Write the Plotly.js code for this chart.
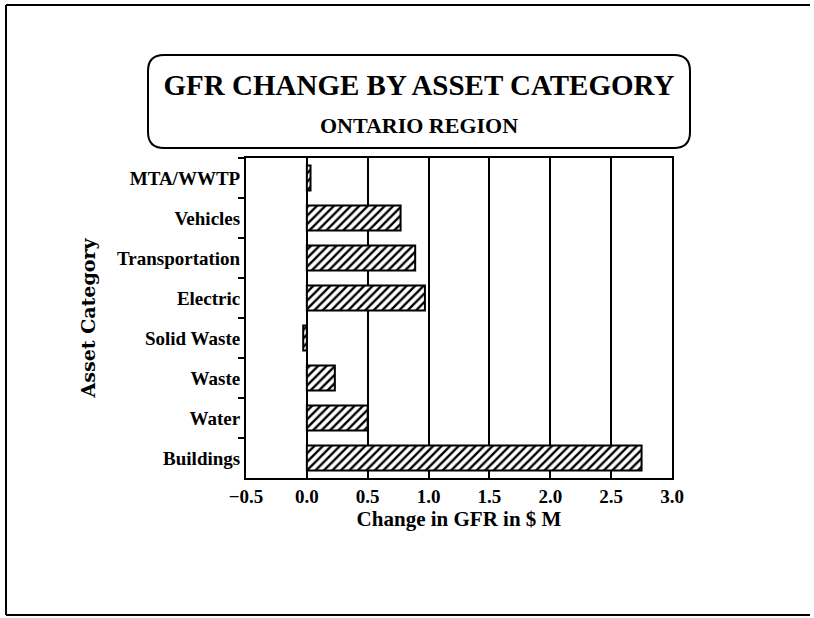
<!DOCTYPE html>
<html>
<head>
<meta charset="utf-8">
<script src="https://cdn.plot.ly/plotly-3.0.1.min.js"></script>
<style>
  html, body { margin: 0; padding: 0; background: #fff; }
  #chart { width: 814px; height: 618px; }
</style>
</head>
<body>
<div id="chart"></div>
<script>
// Data (top to bottom as shown)
const categories = ["MTA/WWTP", "Vehicles", "Transportation", "Electric", "Solid Waste", "Waste", "Water", "Buildings"];
const gfrChange = [0.03, 0.77, 0.89, 0.97, -0.03, 0.23, 0.50, 2.75];
const xTickValues = [-0.5, 0.0, 0.5, 1.0, 1.5, 2.0, 2.5, 3.0];

const titleMain = "GFR CHANGE BY ASSET CATEGORY";
const titleSub = "ONTARIO REGION";
const xTitle = "Change in GFR in $ M";
const yTitle = "Asset Category";

// Layout geometry (pixels)
const PW = 814, PH = 618;
const L = 246, R = 142, T = 158, B = 140;
const W = PW - L - R, H = PH - T - B;
const px = v => (v - L) / W;
const py = v => (T + H - v) / H;

function roundRect(x0, y0, x1, y1, r) {
  const rx = r / W, ry = r / H;
  const a = px(x0), b = px(x1), top = py(y0), bot = py(y1);
  return `M ${a + rx},${top} L ${b - rx},${top} Q ${b},${top} ${b},${top - ry} ` +
         `L ${b},${bot + ry} Q ${b},${bot} ${b - rx},${bot} L ${a + rx},${bot} ` +
         `Q ${a},${bot} ${a},${bot + ry} L ${a},${top - ry} Q ${a},${top} ${a + rx},${top} Z`;
}

const serif = "Liberation Serif, Times New Roman, serif";

const trace = {
  type: "bar",
  orientation: "h",
  y: categories,
  x: gfrChange,
  width: 0.62,
  marker: {
    color: "white",
    line: { color: "black", width: 2 },
    pattern: { shape: "/", fgcolor: "black", bgcolor: "white", size: 6, solidity: 0.4 }
  },
  hoverinfo: "x+y"
};

const layout = {
  width: PW, height: PH,
  margin: { l: L, r: R, t: T, b: B, pad: 0 },
  paper_bgcolor: "white",
  plot_bgcolor: "white",
  showlegend: false,
  font: { family: serif, color: "black" },
  xaxis: {
    range: [-0.5, 3.0],
    tickvals: xTickValues,
    ticktext: xTickValues.map(v => (v < 0 ? "\u2212" : "") + Math.abs(v).toFixed(1)),
    showgrid: true, gridcolor: "black", gridwidth: 2,
    zeroline: true, zerolinecolor: "black", zerolinewidth: 2,
    showline: true, linecolor: "black", linewidth: 2, mirror: true,
    ticks: "", tickfont: { family: serif, size: 19, weight: "bold", color: "black" },
    title: { text: xTitle, font: { family: serif, size: 21, weight: "bold", color: "black" }, standoff: 4 },
    fixedrange: true
  },
  yaxis: {
    type: "category",
    autorange: "reversed",
    showline: true, linecolor: "black", linewidth: 2, mirror: true,
    showgrid: false, zeroline: false,
    ticks: "outside", ticklen: 6, tickwidth: 2, tickcolor: "black",
    tickson: "boundaries",
    tickfont: { family: serif, size: 19, weight: "bold", color: "black" },
    title: { text: yTitle, font: { family: "DejaVu Serif, serif", size: 19, weight: "bold", color: "black" }, standoff: 16 },
    fixedrange: true
  },
  title: {
    text: titleMain + "<br><span style='font-size:22px'>" + titleSub + "</span>",
    font: { family: serif, size: 29, weight: "bold", color: "black" },
    xref: "container", yref: "container",
    x: 419 / PW, xanchor: "center",
    y: 1 - 95 / PH, yanchor: "middle"
  },
  shapes: [
    // title box
    { type: "path", xref: "paper", yref: "paper", path: roundRect(148, 55, 690, 148, 16),
      line: { color: "black", width: 2 }, fillcolor: "rgba(0,0,0,0)", layer: "above" },
    // page frame: top, left, bottom
    { type: "line", xref: "paper", yref: "paper", x0: px(6), x1: px(810), y0: py(5), y1: py(5), line: { color: "black", width: 2 } },
    { type: "line", xref: "paper", yref: "paper", x0: px(6), x1: px(6), y0: py(5), y1: py(615), line: { color: "black", width: 2 } },
    { type: "line", xref: "paper", yref: "paper", x0: px(6), x1: px(810), y0: py(615), y1: py(615), line: { color: "black", width: 2 } }
  ]
};

Plotly.newPlot("chart", [trace], layout, { staticPlot: true, displayModeBar: false });
</script>
</body>
</html>
